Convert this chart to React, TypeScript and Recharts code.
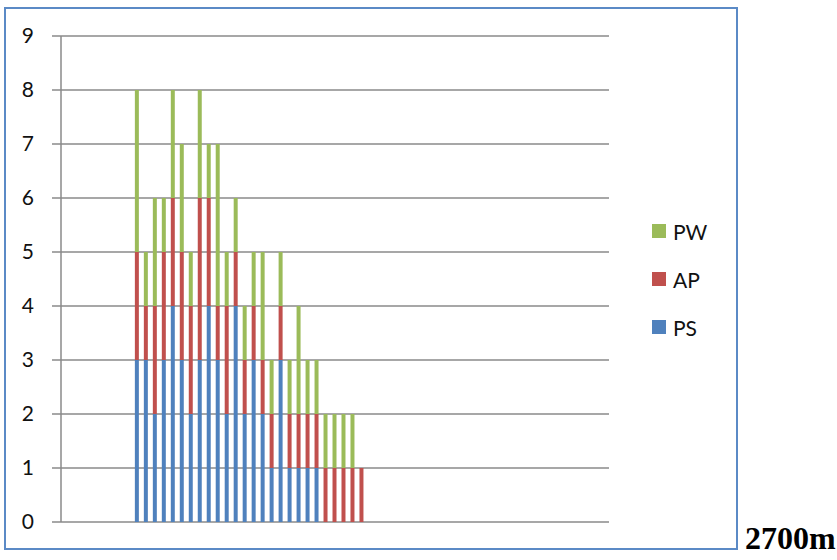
import { BarChart, Bar, XAxis, YAxis, CartesianGrid } from 'recharts'

// 26 samples along the section; the x axis carries no labels
const categories = ['1', '2', '3', '4', '5', '6', '7', '8', '9', '10', '11', '12', '13',
  '14', '15', '16', '17', '18', '19', '20', '21', '22', '23', '24', '25', '26']
const psValues = [3, 3, 2, 3, 4, 3, 2, 3, 4, 3, 2, 4, 2, 3, 2, 1, 3, 1, 1, 1, 1, 0, 0, 0, 0, 0]
const apValues = [2, 1, 2, 2, 2, 2, 2, 3, 2, 1, 2, 1, 1, 1, 1, 1, 1, 1, 1, 1, 1, 1, 1, 1, 1, 1]
const pwValues = [3, 1, 2, 1, 2, 2, 1, 2, 1, 3, 1, 1, 1, 1, 2, 1, 1, 1, 2, 1, 1, 1, 1, 1, 1, 0]
const yTicks = [0, 1, 2, 3, 4, 5, 6, 7, 8, 9]

const series = [
  { key: 'PS', color: '#4F81BD' },
  { key: 'AP', color: '#C0504D' },
  { key: 'PW', color: '#9BBB59' },
]

const data = categories.map((name, i) => ({
  name,
  PS: psValues[i],
  AP: apValues[i],
  PW: pwValues[i],
}))

const gridColor = '#8a8a8a'
const font = 'Lato, "Open Sans", sans-serif'

// legend lists the top of the stack first
function StackLegend() {
  return (
    <div style={{ position: 'absolute', left: 652, top: 207, fontFamily: font, fontSize: 21, color: '#111' }}>
      {[...series].reverse().map((s) => (
        <div key={s.key} style={{ display: 'flex', alignItems: 'center', height: 48 }}>
          <span style={{ width: 14, height: 14, background: s.color, marginRight: 7 }} />
          <span>{s.key}</span>
        </div>
      ))}
    </div>
  )
}

export default function App() {
  // 8 empty slots before the first bar and 27 after the last, ~8.98px each
  const band = 548 / 61
  return (
    <div style={{ position: 'absolute', left: 0, top: 0, width: 837, height: 560, background: '#fff' }}>
      <div
        style={{
          position: 'absolute',
          left: 4,
          top: 7,
          width: 734,
          height: 543,
          border: '2px solid #5B8AC6',
          boxSizing: 'border-box',
        }}
      />
      <div style={{ position: 'absolute', left: 0, top: 0 }}>
        <BarChart
          width={837}
          height={560}
          data={data}
          barSize={4}
          margin={{ top: 36, right: 228, bottom: 38, left: 0 }}
        >
          <CartesianGrid vertical={false} stroke={gridColor} strokeWidth={1.5} />
          <XAxis
            dataKey="name"
            tick={false}
            tickLine={false}
            height={0}
            axisLine={{ stroke: gridColor, strokeWidth: 1.5 }}
            padding={{ left: band * 8, right: band * 27 }}
          />
          <YAxis
            width={61}
            domain={[0, 9]}
            ticks={yTicks}
            interval={0}
            tickSize={9}
            tickMargin={18}
            axisLine={{ stroke: gridColor, strokeWidth: 1.5 }}
            tickLine={{ stroke: gridColor, strokeWidth: 1.5 }}
            tick={{ fontSize: 21, fill: '#111', fontFamily: font }}
          />
          {series.map((s) => (
            <Bar key={s.key} dataKey={s.key} stackId="a" fill={s.color} isAnimationActive={false} />
          ))}
        </BarChart>
      </div>
      <StackLegend />
      <div
        style={{
          position: 'absolute',
          left: 745,
          top: 520,
          fontFamily: '"Liberation Serif", serif',
          fontWeight: 'bold',
          fontSize: 32,
          lineHeight: '36px',
          color: '#000',
        }}
      >
        2700m
      </div>
    </div>
  )
}
